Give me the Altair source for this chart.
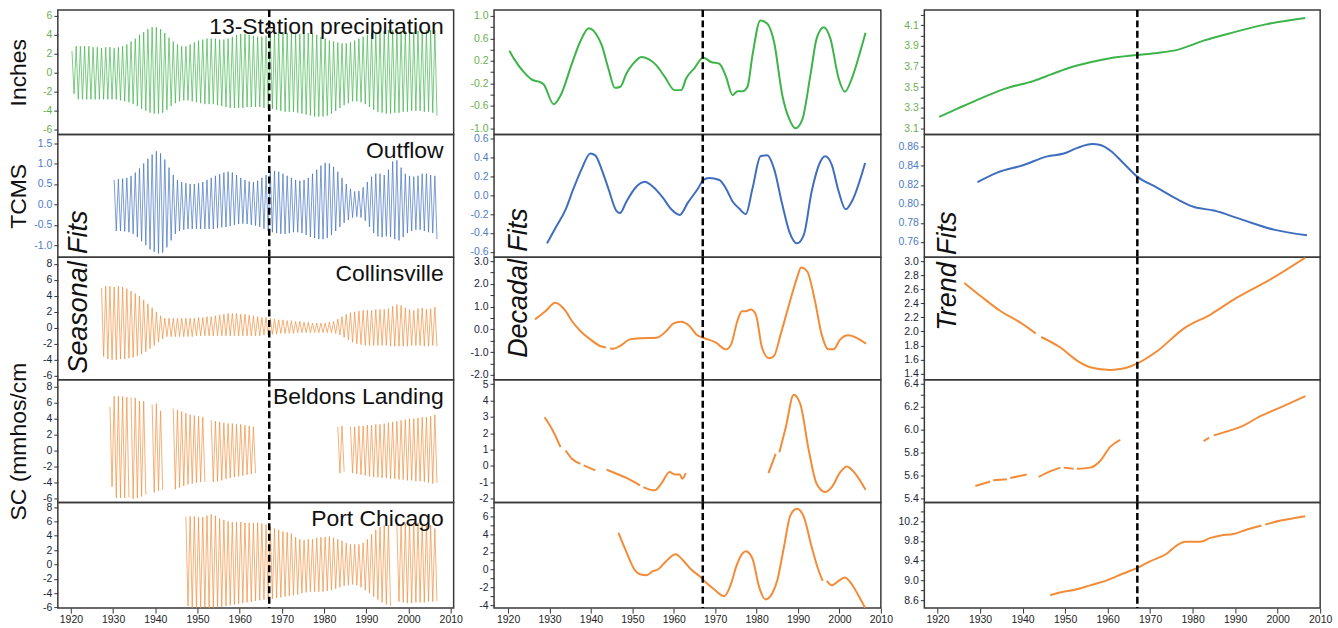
import json
import altair as alt
import pandas as pd

FONT = "Liberation Sans"
DASH_YEAR = 1967
X_TICKS = [1920, 1930, 1940, 1950, 1960, 1970, 1980, 1990, 2000, 2010]

GREEN, BLUE, ORANGE = "#3db449", "#3f6ebf", "#f28c38"
LAB_GREEN, LAB_BLUE, LAB_DARK = "#6ab04c", "#4d7cc9", "#20263a"

# ---------------- Seasonal fits: yearly crest / trough values ----------------
precip_start = 1920
precip_hi = [2.3, 2.8, 2.8, 2.8, 2.8, 2.7, 2.7, 2.6, 2.7, 2.7, 2.6,
             2.7, 2.8, 3.0, 3.3, 3.6, 4.0, 4.3, 4.6, 4.8, 4.8,
             4.6, 4.2, 3.7, 3.3, 3.0, 2.8, 2.8, 3.0, 3.2, 3.4,
             3.5, 3.6, 3.6, 3.6, 3.5, 3.5, 3.6, 3.8, 4.0, 4.1,
             4.1, 4.0, 3.9, 3.8, 3.8, 3.9, 4.1, 4.2, 4.3, 4.3,
             4.2, 4.2, 4.1, 4.1, 4.1, 4.2, 4.2, 4.0, 3.8, 3.6,
             3.4, 3.3, 3.2, 3.1, 3.1, 3.2, 3.4, 3.6, 3.8, 4.0,
             4.2, 4.3, 4.4, 4.4, 4.5, 4.5, 4.5, 4.4, 4.4, 4.3,
             4.3, 4.4, 4.4, 4.5, 4.5, 4.5]
precip_lo = [-2.2, -2.8, -2.8, -2.8, -2.8, -2.8, -2.8, -2.8, -2.8, -2.8, -2.8,
             -2.9, -3.0, -3.1, -3.3, -3.5, -3.8, -4.0, -4.2, -4.3, -4.3,
             -4.2, -3.9, -3.5, -3.2, -3.0, -2.9, -2.9, -3.0, -3.1, -3.2,
             -3.3, -3.3, -3.3, -3.4, -3.5, -3.6, -3.7, -3.7, -3.7, -3.7,
             -3.6, -3.6, -3.6, -3.6, -3.7, -3.8, -3.8, -3.9, -4.0, -4.1,
             -4.1, -4.1, -4.2, -4.3, -4.4, -4.5, -4.6, -4.6, -4.6, -4.5,
             -4.3, -4.0, -3.7, -3.4, -3.2, -3.0, -3.0, -3.1, -3.3, -3.6,
             -3.9, -4.1, -4.2, -4.3, -4.3, -4.2, -4.2, -4.1, -4.1, -4.0,
             -4.0, -4.0, -4.1, -4.1, -4.2, -4.5]

outflow_start = 1930
outflow_hi = [0.60, 0.62, 0.63, 0.65, 0.70, 0.78, 0.88, 1.00, 1.12, 1.22,
              1.30, 1.25, 1.10, 0.90, 0.72, 0.60, 0.55, 0.52, 0.50, 0.50,
              0.52, 0.55, 0.60, 0.65, 0.70, 0.74, 0.78, 0.80, 0.78, 0.72,
              0.65, 0.60, 0.56, 0.55, 0.58, 0.65, 0.72, 0.80, 0.82, 0.80,
              0.75, 0.70, 0.65, 0.60, 0.58, 0.60, 0.65, 0.75, 0.85, 0.95,
              1.02, 1.00, 0.92, 0.80, 0.65, 0.50, 0.38, 0.32, 0.33, 0.42,
              0.55, 0.68, 0.75, 0.75, 0.72, 0.85, 1.05, 1.08, 0.90, 0.75,
              0.70, 0.68, 0.70, 0.75, 0.75, 0.72, 0.70]
outflow_lo = [-0.65, -0.65, -0.66, -0.68, -0.72, -0.80, -0.90, -1.00, -1.10, -1.16,
              -1.20, -1.18, -1.05, -0.88, -0.72, -0.65, -0.62, -0.60, -0.60, -0.60,
              -0.60, -0.60, -0.60, -0.60, -0.58, -0.56, -0.55, -0.53, -0.50, -0.48,
              -0.47, -0.48, -0.50, -0.52, -0.55, -0.60, -0.65, -0.68, -0.70, -0.72,
              -0.72, -0.70, -0.68, -0.68, -0.70, -0.75, -0.80, -0.82, -0.85, -0.85,
              -0.82, -0.75, -0.65, -0.55, -0.45, -0.38, -0.32, -0.30, -0.32, -0.40,
              -0.55, -0.70, -0.78, -0.80, -0.78, -0.80, -0.85, -0.88, -0.80, -0.70,
              -0.65, -0.62, -0.62, -0.65, -0.68, -0.70, -0.85]

coll_start = 1927
coll_hi = [5.0, 5.2, 5.2, 5.1, 5.2, 5.1, 4.9, 4.6, 4.3, 4.0,
           3.5, 3.0, 2.5, 2.0, 1.5, 1.2, 1.2, 1.2, 1.2, 1.2,
           1.2, 1.2, 1.2, 1.3, 1.3, 1.4, 1.4, 1.5, 1.6, 1.7,
           1.8, 1.8, 1.8, 1.7, 1.7, 1.6, 1.5, 1.4, 1.3, 1.3,
           1.2, 1.1, 1.0, 1.0, 0.9, 0.9, 0.8, 0.8, 0.7, 0.7,
           0.6, 0.6, 0.6, 0.6, 0.7, 0.8, 1.1, 1.4, 1.7, 1.9,
           2.0, 2.1, 2.2, 2.2, 2.2, 2.3, 2.3, 2.3, 2.4, 2.7,
           2.9, 2.8, 2.5, 2.3, 2.2, 2.4, 2.5, 2.3, 2.4, 2.6]
coll_lo = [-3.6, -3.9, -4.0, -4.0, -3.9, -3.9, -3.8, -3.7, -3.5, -3.3,
           -3.0, -2.6, -2.2, -1.8, -1.4, -1.1, -1.1, -1.1, -1.1, -1.1,
           -1.1, -1.1, -1.0, -1.0, -1.0, -1.0, -1.0, -1.0, -1.0, -1.0,
           -1.0, -1.0, -1.0, -1.0, -1.0, -1.0, -1.0, -1.0, -0.9, -0.9,
           -0.8, -0.8, -0.7, -0.7, -0.7, -0.7, -0.6, -0.6, -0.6, -0.6,
           -0.6, -0.6, -0.6, -0.6, -0.6, -0.7, -0.9, -1.2, -1.5, -1.8,
           -2.0, -2.1, -2.2, -2.2, -2.2, -2.2, -2.2, -2.2, -2.3, -2.3,
           -2.3, -2.3, -2.3, -2.2, -2.2, -2.2, -2.3, -2.3, -2.2, -2.3]

# Beldons Landing record has gaps: (first year, crests, troughs)
beld_segments = [
    (1929, [5.5, 6.8, 6.8, 6.8, 6.7], [-4.5, -5.9, -5.9, -5.9, -5.8]),
    (1934, [6.7, 6.6, 6.2, 6.2], [-6.0, -5.9, -5.7, -5.5]),
    (1939, [5.8, 5.9, 5.0], [-5.2, -5.0, -4.9]),
    (1944, [5.3, 5.1, 4.9, 4.7, 4.5, 4.4, 4.3, 4.2],
           [-4.8, -4.6, -4.4, -4.2, -4.1, -4.0, -3.9, -3.9]),
    (1953, [3.8, 3.7, 3.6, 3.5, 3.4, 3.4, 3.3, 3.3, 3.2, 3.1, 3.0],
           [-3.9, -3.8, -3.7, -3.5, -3.4, -3.3, -3.2, -3.1, -3.0, -2.9, -2.8]),
    (1983, [3.0, 3.1], [-2.8, -2.6]),
    (1986, [3.0, 3.0, 3.1, 3.1, 3.2, 3.2, 3.3, 3.3, 3.4, 3.5, 3.6, 3.7, 3.8, 3.9,
            4.0, 4.0, 4.1, 4.2, 4.2, 4.3, 4.5],
           [-2.8, -2.9, -3.0, -3.1, -3.2, -3.3, -3.3, -3.4, -3.4, -3.5, -3.5, -3.6,
            -3.6, -3.7, -3.7, -3.8, -3.8, -3.9, -4.0, -4.1, -4.0]),
]

pc_segments = [
    (1947, [6.7, 6.7, 6.7, 6.6, 6.6, 6.8, 7.0, 6.8, 6.4, 6.2,
            6.0, 5.9, 5.9, 5.9, 5.8, 5.8, 5.8, 5.8, 5.7, 5.6,
            5.3, 5.0, 4.8, 4.6, 4.5, 4.3, 3.8, 3.5, 3.4, 3.5,
            3.5, 3.7, 3.8, 3.8, 3.9, 3.7, 3.5, 3.3, 3.0, 2.8,
            2.8, 2.8, 3.0, 3.5, 4.2, 4.8, 5.2, 5.4, 5.5],
           [-5.8, -6.2, -6.2, -6.1, -6.0, -6.1, -6.1, -6.0, -5.9, -5.8,
            -5.7, -5.6, -5.5, -5.4, -5.3, -5.2, -5.1, -5.0, -4.9, -4.9,
            -4.8, -4.7, -4.6, -4.5, -4.4, -4.3, -4.2, -4.0, -3.9, -3.8,
            -3.8, -3.8, -3.8, -3.7, -3.6, -3.4, -3.2, -3.0, -2.9, -2.8,
            -2.9, -3.2, -3.6, -4.0, -4.5, -4.9, -5.3, -5.6, -5.8]),
    (1997, [5.5, 5.6, 5.7, 5.8, 5.8, 5.8, 5.7, 5.6, 5.5, 5.0],
           [-5.2, -5.3, -5.4, -5.4, -5.3, -5.3, -5.3, -5.2, -5.2, -5.1]),
]

# ---------------- Decadal fits ----------------
dec_precip_years = [1920.3, 1921.4, 1923.8, 1925.9, 1927.5, 1928.6, 1931.0, 1932.7, 1935.4, 1937.4,
                    1939.5, 1941.4, 1942.6, 1944.2, 1945.8, 1947.1, 1948.6, 1950.2, 1952.2, 1953.9,
                    1955.8, 1957.8, 1960.2, 1961.8, 1963.0, 1965.0, 1967.1, 1969.0, 1971.0, 1972.6,
                    1974.2, 1975.4, 1976.6, 1977.8, 1979.0, 1980.9, 1982.6, 1984.2, 1986.2, 1987.8,
                    1989.4, 1991.0, 1993.0, 1994.5, 1996.2, 1997.8, 1999.8, 2001.3, 2003.0, 2005.0, 2006.3]
dec_precip_vals = [0.38, 0.24, 0.0, -0.14, -0.17, -0.22, -0.57, -0.41, 0.15, 0.54,
                   0.78, 0.66, 0.48, 0.07, -0.28, -0.26, -0.02, 0.15, 0.27, 0.23,
                   0.12, -0.08, -0.32, -0.32, -0.11, 0.07, 0.26, 0.18, 0.15, -0.08,
                   -0.41, -0.34, -0.34, -0.26, 0.30, 0.92, 0.86, 0.54, -0.41, -0.82,
                   -1.0, -0.85, -0.05, 0.60, 0.80, 0.60, -0.11, -0.35, -0.11, 0.36, 0.70]

dec_outflow_years = [1929.4, 1931.4, 1933.9, 1935.8, 1937.8, 1939.85, 1941.05, 1942.6, 1944.2, 1946.2,
                     1947.0, 1948.55, 1950.6, 1953.0, 1954.9, 1957.4, 1959.4, 1961.45, 1963.4, 1965.85,
                     1967.15, 1968.55, 1971.0, 1972.6, 1974.25, 1975.75, 1977.4, 1979.0, 1980.95, 1982.55,
                     1984.2, 1986.2, 1987.85, 1989.75, 1991.4, 1993.3, 1995.35, 1996.55, 1998.15, 1999.8,
                     2001.5, 2002.95, 2006.2]
dec_outflow_vals = [-0.51, -0.35, -0.15, 0.07, 0.28, 0.44, 0.42, 0.27, 0.07, -0.17,
                    -0.19, -0.07, 0.07, 0.14, 0.09, -0.03, -0.15, -0.21, -0.08, 0.07,
                    0.16, 0.18, 0.16, 0.07, -0.07, -0.14, -0.20, 0.07, 0.41, 0.42,
                    0.28, -0.10, -0.38, -0.51, -0.42, 0.04, 0.35, 0.41, 0.32, 0.04,
                    -0.15, -0.07, 0.34]

dec_coll_segments = [
    ([1926.5, 1929.0, 1931.4, 1933.9, 1935.4, 1937.45, 1939.85, 1942.2, 1943.6],
     [0.44, 0.80, 1.17, 0.80, 0.37, -0.07, -0.44, -0.73, -0.80]),
    ([1944.6, 1945.45, 1947.05, 1949.4, 1951.85, 1955.8, 1958.2, 1959.85, 1961.75, 1963.8,
      1965.45, 1967.45, 1970.2, 1972.6, 1973.85, 1975.35, 1976.45, 1977.4, 1978.6, 1979.8,
      1981.3, 1982.95, 1984.2, 1985.8, 1987.85, 1989.75, 1990.75, 1992.2, 1994.1, 1995.7,
      1997.35, 1998.55, 2000.2, 2002.1, 2004.15, 2006.4],
     [-0.84, -0.85, -0.73, -0.44, -0.39, -0.37, -0.07, 0.25, 0.34, 0.15,
      -0.22, -0.39, -0.58, -0.88, -0.66, 0.37, 0.80, 0.80, 0.88, 0.66,
      -0.80, -1.27, -1.17, -0.22, 1.10, 2.27, 2.73, 2.56, 1.24, -0.22,
      -0.88, -0.88, -0.44, -0.26, -0.37, -0.63]),
]

dec_beld_segments = [
    ([1928.8, 1931.0, 1932.65], [2.97, 2.06, 1.15]),
    ([1933.9, 1935.4, 1937.45], [0.94, 0.44, 0.13]),
    ([1938.25, 1941.05], [0.03, -0.27]),
    ([1943.8, 1946.2, 1948.95, 1951.85], [-0.23, -0.48, -0.78, -1.19]),
    ([1952.65, 1955.4, 1957.0, 1959.0, 1960.25, 1961.45, 1962.05, 1962.9],
     [-1.29, -1.49, -1.08, -0.37, -0.52, -0.52, -0.78, -0.44]),
    ([1982.85, 1984.6], [-0.44, 0.74]),
    ([1985.5, 1987.05, 1988.95, 1990.55, 1992.6, 1994.5, 1996.55, 1998.15, 2000.2, 2001.8,
      2003.85, 2006.3],
     [0.84, 2.36, 4.35, 3.78, 0.94, -1.09, -1.59, -1.29, -0.38, -0.03, -0.48, -1.45]),
]

dec_pc_segments = [
    ([1946.65, 1948.55, 1950.6, 1951.85, 1953.45, 1954.95, 1956.2, 1958.2, 1960.45, 1962.2,
      1964.2, 1966.25, 1967.85, 1969.8, 1972.2, 1973.85, 1975.05, 1976.55, 1977.4, 1979.0,
      1980.6, 1982.15, 1983.75, 1985.0, 1986.6, 1988.15, 1989.75, 1991.4, 1993.3, 1994.95,
      1995.95],
     [4.13, 1.99, -0.07, -0.52, -0.63, -0.18, 0.01, 0.98, 1.73, 1.06,
      0.01, -0.74, -1.49, -2.24, -2.99, -1.56, 0.31, 1.81, 2.07, 1.24,
      -1.94, -3.36, -2.69, -1.19, 2.55, 6.11, 6.86, 5.93, 2.55, -0.07,
      -1.27]),
    ([1996.95, 1998.15, 1999.8, 2001.3, 2002.55, 2004.55, 2006.2],
     [-1.27, -1.76, -1.27, -0.89, -1.38, -2.88, -4.3]),
]

# ---------------- Trend fits ----------------
trend_precip_years = [1920.4, 1924.7, 1930.2, 1935.6, 1942.7, 1946.6, 1950.5, 1955.9,
                      1960.6, 1966.9, 1971.7, 1976.35, 1982.6, 1989.6, 1997.45, 2006.5]
trend_precip_vals = [3.21, 3.29, 3.39, 3.48, 3.56, 3.62, 3.68, 3.74,
                     3.78, 3.81, 3.83, 3.86, 3.95, 4.03, 4.11, 4.17]

trend_outflow_years = [1929.4, 1934.05, 1940.3, 1945.8, 1949.7, 1952.9, 1956.4, 1958.3, 1960.7,
                       1963.7, 1966.9, 1971.7, 1976.35, 1980.2, 1985.0, 1991.3, 1999.1, 2006.9]
trend_outflow_vals = [0.823, 0.833, 0.841, 0.850, 0.853, 0.859, 0.863, 0.862, 0.856,
                      0.843, 0.829, 0.817, 0.805, 0.797, 0.793, 0.784, 0.773, 0.767]

trend_coll_segments = [
    ([1926.3, 1930.2, 1934.8, 1939.6, 1943.1], [2.69, 2.50, 2.29, 2.12, 1.97]),
    ([1944.4, 1948.9, 1952.9, 1955.9, 1960.6, 1963.7, 1966.9, 1971.7, 1977.9, 1984.2,
      1990.4, 1998.3, 2006.5],
     [1.92, 1.77, 1.58, 1.49, 1.45, 1.47, 1.54, 1.72, 2.04, 2.24, 2.48, 2.74, 3.05]),
]

trend_beld_segments = [
    ([1928.9, 1932.4], [5.51, 5.55]),
    ([1933.1, 1936.3], [5.56, 5.57]),
    ([1937.1, 1941.0], [5.58, 5.61]),
    ([1943.8, 1946.6, 1948.9], [5.59, 5.64, 5.67]),
    ([1949.7, 1952.0], [5.67, 5.66]),
    ([1952.8, 1955.9, 1958.3, 1960.6, 1963.0], [5.66, 5.67, 5.73, 5.85, 5.91]),
    ([1982.6, 1983.9], [5.90, 5.93]),
    ([1985.0, 1987.7, 1991.7, 1995.6, 2001.1, 2006.5], [5.95, 5.98, 6.03, 6.11, 6.20, 6.29]),
]

trend_pc_segments = [
    ([1946.5, 1949.6, 1952.8, 1955.9, 1959.8, 1963.7, 1966.9, 1970.1, 1973.9, 1976.3,
      1978.3, 1981.8, 1984.2, 1986.6, 1989.6, 1992.8, 1996.2],
     [8.70, 8.77, 8.82, 8.90, 9.00, 9.14, 9.25, 9.39, 9.54, 9.71,
      9.78, 9.78, 9.86, 9.91, 9.94, 10.03, 10.11]),
    ([1997.1, 2000.7, 2006.5], [10.13, 10.21, 10.30]),
]


# ---------------- helpers ----------------
def seasonal_df(segments):
    rows = []
    for k, (start, hi, lo) in enumerate(segments):
        for i, (h, l) in enumerate(zip(hi, lo)):
            rows.append({"year": start + i + 0.25, "v": h, "seg": k})
            rows.append({"year": start + i + 0.75, "v": l, "seg": k})
    return pd.DataFrame(rows)


def seg_df(segments):
    rows = []
    for k, (ys, vs) in enumerate(segments):
        for y, v in zip(ys, vs):
            rows.append({"year": y, "v": v, "seg": k})
    return pd.DataFrame(rows)


def steps(a, b, step):
    n = int(round((b - a) / step))
    return [round(a + i * step, 3) for i in range(n + 1)]


def yaxis(ticks, labels, fmt, color, title=None, h=100):
    expr = ("indexof(%s, datum.value) >= 0 ? replace(datum.label, '\u2212', '-') : ''"
            % json.dumps(labels))
    kw = dict(values=ticks, format=fmt, labelExpr=expr, labelColor=color,
              labelFontSize=10.5, labelFont=FONT, tickSize=4, tickColor="#333",
              labelPadding=2, domain=False, grid=False, labelOverlap=False)
    if title:
        kw.update(title=title, titleX=-39, titleY=h / 2, titleAngle=270,
                  titleAlign="center", titleBaseline="middle", titleFontSize=23,
                  titleFont=FONT, titleFontWeight="normal", titleColor="#111")
    else:
        kw.update(title=None)
    return alt.Axis(**kw)


XAXIS = alt.Axis(values=X_TICKS, format="d", tickSize=5, tickColor="#333",
                 labelFontSize=10.5, labelFont=FONT, labelColor="#222",
                 labelPadding=1, labelFlush=False, labelOverlap=False,
                 domain=False, grid=False, title=None)


def panel(df, color, xdom, w, h, ydom, yax, sw, interp, bottom=False,
          name=None, fits=None, opacity=1.0):
    xenc = alt.X("year:Q", scale=alt.Scale(domain=xdom, nice=False, zero=False),
                 axis=XAXIS if bottom else None, title=None)
    line = alt.Chart(df).mark_line(color=color, strokeWidth=sw, clip=True,
                                   interpolate=interp, opacity=opacity).encode(
        x=xenc,
        y=alt.Y("v:Q", scale=alt.Scale(domain=ydom, nice=False, zero=False), axis=yax),
        detail="seg:N",
    )
    rule = alt.Chart(pd.DataFrame({"year": [DASH_YEAR]})).mark_rule(
        color="black", strokeWidth=2.5, strokeDash=[7, 3.5]
    ).encode(x=alt.X("year:Q", title=None))
    layers = [line, rule]
    if name:
        layers.append(alt.Chart(pd.DataFrame({"t": [name]})).mark_text(
            align="right", baseline="alphabetic", font=FONT, fontSize=23, color="#111"
        ).encode(x=alt.value(w - 10), y=alt.value(24), text="t:N"))
    if fits:
        txt, fx, fy = fits
        layers.append(alt.Chart(pd.DataFrame({"t": [txt]})).mark_text(
            align="center", baseline="middle", angle=270, font=FONT, fontSize=27,
            fontStyle="italic", color="#111"
        ).encode(x=alt.value(fx), y=alt.value(fy), text="t:N"))
    return alt.layer(*layers).properties(width=w, height=h)


H = [125, 123, 123, 123, 106]
W1, W2, W3 = 397, 388, 397
XD1, XD2, XD3 = [1916.9, 2010.7], [1916.6, 2010.0], [1916.9, 2010.0]
SW, SOP = 0.8, 0.85

ev2 = [-6, -4, -2, 0, 2, 4, 6, 8]

# ---------------- column 1: seasonal ----------------
c1 = [
    panel(seasonal_df([(precip_start, precip_hi, precip_lo)]), GREEN, XD1, W1, H[0],
          [-6.5, 6.63], yaxis([-6, -4, -2, 0, 2, 4, 6], [-6, -4, -2, 0, 2, 4, 6], "d",
                              LAB_GREEN, "Inches", H[0]), SW, "linear",
          name="13-Station precipitation", opacity=SOP),
    panel(seasonal_df([(outflow_start, outflow_hi, outflow_lo)]), BLUE, XD1, W1, H[1],
          [-1.29, 1.71], yaxis(steps(-1.0, 1.5, 0.5), steps(-1.0, 1.5, 0.5), ".1f",
                               LAB_BLUE, "TCMS", H[1]), SW, "linear",
          name="Outflow", opacity=SOP),
    panel(seasonal_df([(coll_start, coll_hi, coll_lo)]), ORANGE, XD1, W1, H[2],
          [-6.5, 8.84], yaxis(ev2, ev2, "d", LAB_DARK), SW, "linear",
          name="Collinsville", fits=("Seasonal Fits", 21.5, 35), opacity=SOP),
    panel(seasonal_df(beld_segments), ORANGE, XD1, W1, H[3],
          [-6.46, 8.87], yaxis(ev2, ev2, "d", LAB_DARK, "SC (mmhos/cm", H[3]), SW, "linear",
          name="Beldons Landing", opacity=SOP),
    panel(seasonal_df(pc_segments), ORANGE, XD1, W1, H[4],
          [-6.1, 8.65], yaxis(ev2, ev2, "d", LAB_DARK), SW, "linear",
          bottom=True, name="Port Chicago", opacity=SOP),
]

# ---------------- column 2: decadal ----------------
c2 = [
    panel(seg_df([(dec_precip_years, dec_precip_vals)]), GREEN, XD2, W2, H[0],
          [-1.11, 1.107], yaxis(steps(-1.0, 1.0, 0.2), [-1.0, -0.6, -0.2, 0.2, 0.6, 1.0], ".1f",
                                LAB_GREEN), 2, "monotone"),
    panel(seg_df([(dec_outflow_years, dec_outflow_vals)]), BLUE, XD2, W2, H[1],
          [-0.656, 0.64], yaxis(steps(-0.6, 0.6, 0.2), steps(-0.6, 0.6, 0.2), ".1f",
                                LAB_BLUE), 2, "monotone"),
    panel(seg_df(dec_coll_segments), ORANGE, XD2, W2, H[2],
          [-2.22, 3.18], yaxis(steps(-2.0, 3.0, 0.5), steps(-2.0, 3.0, 1.0), ".1f",
                               LAB_DARK), 2, "monotone",
          fits=("Decadal Fits", 25, 26)),
    panel(seg_df(dec_beld_segments), ORANGE, XD2, W2, H[3],
          [-2.23, 5.26], yaxis(steps(-2.0, 5.0, 0.5), steps(-2.0, 5.0, 1.0), "d",
                               LAB_DARK), 2, "monotone"),
    panel(seg_df(dec_pc_segments), ORANGE, XD2, W2, H[4],
          [-4.34, 7.57], yaxis(steps(-4.0, 7.0, 1.0), steps(-4.0, 6.0, 2.0), "d",
                               LAB_DARK), 2, "monotone", bottom=True),
]

# ---------------- column 3: trend ----------------
c3 = [
    panel(seg_df([(trend_precip_years, trend_precip_vals)]), GREEN, XD3, W3, H[0],
          [3.039, 4.248], yaxis(steps(3.1, 4.2, 0.1), steps(3.1, 4.1, 0.2), ".1f",
                                LAB_GREEN), 2, "monotone"),
    panel(seg_df([(trend_outflow_years, trend_outflow_vals)]), BLUE, XD3, W3, H[1],
          [0.744, 0.873], yaxis(steps(0.76, 0.86, 0.02), steps(0.76, 0.86, 0.02), ".2f",
                                LAB_BLUE), 2, "monotone"),
    panel(seg_df(trend_coll_segments), ORANGE, XD3, W3, H[2],
          [1.31, 3.057], yaxis(steps(1.4, 3.0, 0.2), steps(1.4, 3.0, 0.2), ".1f",
                               LAB_DARK), 2, "monotone",
          fits=("Trend Fits", 23.5, 14)),
    panel(seg_df(trend_beld_segments), ORANGE, XD3, W3, H[3],
          [5.368, 6.432], yaxis(steps(5.4, 6.4, 0.1), steps(5.4, 6.4, 0.2), ".1f",
                                LAB_DARK), 2, "monotone"),
    panel(seg_df(trend_pc_segments), ORANGE, XD3, W3, H[4],
          [8.44, 10.577], yaxis(steps(8.6, 10.4, 0.2), steps(8.6, 10.2, 0.4), ".1f",
                                LAB_DARK), 2, "monotone", bottom=True),
]

col1 = alt.vconcat(*c1, spacing=0, bounds="flush")
col2 = alt.vconcat(*c2, spacing=0, bounds="flush")
col3 = alt.vconcat(*c3, spacing=0, bounds="flush")

left_pair = alt.hconcat(col1, col2, spacing=5.5)
chart = alt.hconcat(left_pair, col3, spacing=3.1).properties(
    padding={"left": 7, "top": 7, "right": 5, "bottom": 0},
    background="white",
).configure_view(stroke="#3a3a3a", strokeWidth=1.5)

chart.save("out.html", embed_options={"renderer": "svg", "actions": False})
